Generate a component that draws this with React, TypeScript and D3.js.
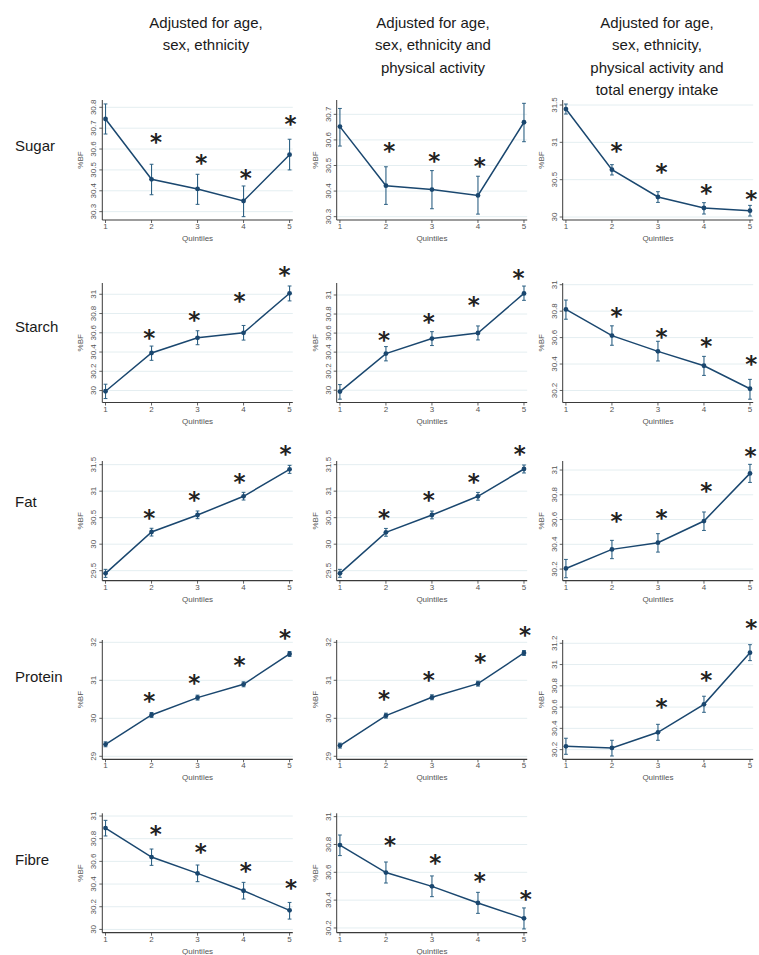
import React from "react";
import * as d3 from "d3";

const W = 759;
const H = 955;

const quintiles = [1, 2, 3, 4, 5];
const nutrients = ["Sugar", "Starch", "Fat", "Protein", "Fibre"];
const titleModel1 = ["Adjusted for age,", "sex, ethnicity"];
const titleModel2 = ["Adjusted for age,", "sex, ethnicity and", "physical activity"];
const titleModel3 = ["Adjusted for age,", "sex, ethnicity,", "physical activity and", "total energy intake"];
const xAxisTitle = "Quintiles";
const yAxisTitle = "%BF";

// each row: [mean, lower CI, upper CI] per quintile
const sugarM1 = [[30.744, 30.672, 30.816], [30.455, 30.381, 30.527], [30.409, 30.335, 30.479], [30.351, 30.276, 30.423], [30.573, 30.5, 30.647]];
const sugarM2 = [[30.652, 30.576, 30.723], [30.421, 30.348, 30.495], [30.406, 30.331, 30.48], [30.383, 30.31, 30.458], [30.669, 30.593, 30.743]];
const sugarM3 = [[31.446, 31.379, 31.513], [30.634, 30.563, 30.701], [30.268, 30.196, 30.339], [30.121, 30.04, 30.192], [30.085, 30.013, 30.156]];
const starchM1 = [[29.993, 29.917, 30.066], [30.39, 30.314, 30.462], [30.548, 30.476, 30.621], [30.6, 30.524, 30.676], [31.01, 30.931, 31.086]];
const starchM2 = [[29.986, 29.906, 30.059], [30.385, 30.308, 30.458], [30.542, 30.469, 30.615], [30.601, 30.528, 30.675], [31.017, 30.944, 31.094]];
const starchM3 = [[30.813, 30.739, 30.884], [30.615, 30.542, 30.689], [30.496, 30.423, 30.572], [30.387, 30.314, 30.458], [30.213, 30.134, 30.284]];
const fatM1 = [[29.45, 29.374, 29.525], [30.23, 30.154, 30.3], [30.55, 30.481, 30.626], [30.903, 30.833, 30.978], [31.412, 31.336, 31.487]];
const fatM2 = [[29.45, 29.375, 29.525], [30.223, 30.15, 30.297], [30.55, 30.478, 30.624], [30.903, 30.83, 30.976], [31.418, 31.343, 31.493]];
const fatM3 = [[30.205, 30.13, 30.278], [30.359, 30.284, 30.432], [30.413, 30.337, 30.486], [30.588, 30.512, 30.661], [30.973, 30.9, 31.046]];
const proteinM1 = [[29.316, 29.251, 29.381], [30.088, 30.023, 30.153], [30.544, 30.479, 30.609], [30.895, 30.83, 30.96], [31.693, 31.628, 31.758]];
const proteinM2 = [[29.281, 29.216, 29.346], [30.07, 30.005, 30.135], [30.553, 30.488, 30.618], [30.912, 30.847, 30.977], [31.719, 31.654, 31.784]];
const proteinM3 = [[30.231, 30.156, 30.307], [30.216, 30.14, 30.288], [30.363, 30.288, 30.438], [30.626, 30.551, 30.702], [31.112, 31.037, 31.187]];
const fibreM1 = [[30.894, 30.824, 30.962], [30.638, 30.565, 30.709], [30.494, 30.421, 30.568], [30.341, 30.268, 30.415], [30.168, 30.091, 30.238]];
const fibreM2 = [[30.796, 30.72, 30.868], [30.598, 30.523, 30.674], [30.499, 30.425, 30.574], [30.38, 30.305, 30.456], [30.269, 30.193, 30.344]];

// significance stars: [quintile position, %BF position]
const sugarM1Stars = [[2.1, 30.659], [3.08, 30.559], [4.05, 30.487], [5.02, 30.747]];
const sugarM2Stars = [[2.07, 30.58], [3.05, 30.541], [4.04, 30.519]];
const sugarM3Stars = [[2.1, 30.964], [3.08, 30.674], [4.05, 30.393], [5.03, 30.317]];
const starchM1Stars = [[1.95, 30.603], [2.93, 30.79], [3.91, 30.983], [4.89, 31.259]];
const starchM2Stars = [[1.96, 30.584], [2.93, 30.769], [3.91, 30.955], [4.88, 31.241]];
const starchM3Stars = [[2.1, 30.803], [3.08, 30.643], [4.05, 30.577], [5.03, 30.443]];
const fatM1Stars = [[1.95, 30.6], [2.93, 30.94], [3.91, 31.286], [4.91, 31.796]];
const fatM2Stars = [[1.96, 30.6], [2.93, 30.94], [3.91, 31.274], [4.91, 31.808]];
const fatM3Stars = [[2.1, 30.636], [3.08, 30.658], [4.05, 30.879], [5.01, 31.156]];
const proteinM1Stars = [[1.95, 30.596], [2.93, 31.079], [3.91, 31.553], [4.9, 32.263]];
const proteinM2Stars = [[1.96, 30.658], [2.93, 31.14], [4.05, 31.623], [5.02, 32.325]];
const proteinM3Stars = [[3.08, 30.651], [4.05, 30.902], [5.03, 31.4]];
const fibreM1Stars = [[2.09, 30.891], [3.07, 30.729], [4.05, 30.568], [5.03, 30.412]];
const fibreM2Stars = [[2.09, 30.837], [3.07, 30.705], [4.04, 30.574], [5.04, 30.449]];

// y axis ranges and ticks
const sugarM1Range = [30.26, 30.835];
const sugarM2Range = [30.287, 30.756];
const sugarM3Range = [29.96, 31.567];
const starchM1Range = [29.876, 31.117];
const starchM2Range = [29.871, 31.126];
const starchM3Range = [30.109, 31.013];
const fatM1Range = [29.311, 31.569];
const fatM2Range = [29.311, 31.569];
const fatM3Range = [30.106, 31.073];
const proteinM1Range = [28.921, 32.061];
const proteinM2Range = [28.921, 32.061];
const proteinM3Range = [30.109, 31.231];
const fibreM1Range = [29.971, 31.024];
const fibreM2Range = [30.166, 31.024];

const ticksSugar1 = [30.3, 30.4, 30.5, 30.6, 30.7, 30.8];
const ticksSugar2 = [30.3, 30.4, 30.5, 30.6, 30.7];
const ticksHalf30 = [30, 30.5, 31, 31.5];
const ticks30to31 = [30, 30.2, 30.4, 30.6, 30.8, 31];
const ticks302to31 = [30.2, 30.4, 30.6, 30.8, 31];
const ticksFat = [29.5, 30, 30.5, 31, 31.5];
const ticksProtein = [29, 30, 31, 32];
const ticks302to312 = [30.2, 30.4, 30.6, 30.8, 31, 31.2];

const panels = [
  { row: 0, col: 0, data: sugarM1, stars: sugarM1Stars, range: sugarM1Range, ticks: ticksSugar1 },
  { row: 0, col: 1, data: sugarM2, stars: sugarM2Stars, range: sugarM2Range, ticks: ticksSugar2 },
  { row: 0, col: 2, data: sugarM3, stars: sugarM3Stars, range: sugarM3Range, ticks: ticksHalf30 },
  { row: 1, col: 0, data: starchM1, stars: starchM1Stars, range: starchM1Range, ticks: ticks30to31 },
  { row: 1, col: 1, data: starchM2, stars: starchM2Stars, range: starchM2Range, ticks: ticks30to31 },
  { row: 1, col: 2, data: starchM3, stars: starchM3Stars, range: starchM3Range, ticks: ticks302to31 },
  { row: 2, col: 0, data: fatM1, stars: fatM1Stars, range: fatM1Range, ticks: ticksFat },
  { row: 2, col: 1, data: fatM2, stars: fatM2Stars, range: fatM2Range, ticks: ticksFat },
  { row: 2, col: 2, data: fatM3, stars: fatM3Stars, range: fatM3Range, ticks: ticks302to31 },
  { row: 3, col: 0, data: proteinM1, stars: proteinM1Stars, range: proteinM1Range, ticks: ticksProtein },
  { row: 3, col: 1, data: proteinM2, stars: proteinM2Stars, range: proteinM2Range, ticks: ticksProtein },
  { row: 3, col: 2, data: proteinM3, stars: proteinM3Stars, range: proteinM3Range, ticks: ticks302to312 },
  { row: 4, col: 0, data: fibreM1, stars: fibreM1Stars, range: fibreM1Range, ticks: ticks30to31 },
  { row: 4, col: 1, data: fibreM2, stars: fibreM2Stars, range: fibreM2Range, ticks: ticks302to31 },
];

// layout
const colAxisX = [102.3, 336.7, 562.7];
const plotW = 190.5;
const rowTop = [100, 283, 461, 640, 813.3];
const rowBottom = [220, 402.5, 580.7, 759.3, 932.7];
const rowLabelY = [151, 332, 507, 682, 865];
const titleCenters = [206, 433, 657];
const titleY0 = 28;
const titleLineH = 22.3;

const LINE = "#1a476f";
const CI = "#2d6184";
const AXIS = "#3a3a3a";
const GRID = "#e4eef1";
const TEXT = "#555";
const SANS = "'Liberation Sans', Arial, sans-serif";

function Panel({ p }: { p: any }) {
  const x0 = colAxisX[p.col];
  const top = rowTop[p.row];
  const bottom = rowBottom[p.row];
  const xs = d3.scaleLinear().domain([0.93, 5.07]).range([x0, x0 + plotW]);
  const ys = d3.scaleLinear().domain(p.range).range([bottom, top]);
  const line = d3
    .line<number[]>()
    .x((_, i) => xs(quintiles[i]))
    .y((d) => ys(d[0]));
  const cap = 1.9;
  return (
    <g>
      {p.ticks.map((t: number) => (
        <line key={"g" + t} x1={x0} x2={x0 + plotW} y1={ys(t)} y2={ys(t)} stroke={GRID} strokeWidth={1} />
      ))}
      {p.ticks.map((t: number) => (
        <g key={"t" + t}>
          <line x1={x0 - 3} x2={x0} y1={ys(t)} y2={ys(t)} stroke={AXIS} strokeWidth={0.8} />
          <text
            transform={`translate(${x0 - 6},${ys(t)}) rotate(-90)`}
            textAnchor="middle"
            fontFamily={SANS}
            fontSize={8}
            fill={TEXT}
          >
            {String(t)}
          </text>
        </g>
      ))}
      {quintiles.map((q) => (
        <g key={"x" + q}>
          <line x1={xs(q)} x2={xs(q)} y1={bottom} y2={bottom + 3} stroke={AXIS} strokeWidth={0.8} />
          <text x={xs(q)} y={bottom + 9} textAnchor="middle" fontFamily={SANS} fontSize={8} fill={TEXT}>
            {q}
          </text>
        </g>
      ))}
      <line x1={x0} x2={x0} y1={top} y2={bottom} stroke={AXIS} strokeWidth={1} />
      <line x1={x0} x2={x0 + plotW} y1={bottom} y2={bottom} stroke={AXIS} strokeWidth={1.2} />
      <text x={(xs(1) + xs(5)) / 2} y={bottom + 21} textAnchor="middle" fontFamily={SANS} fontSize={8} fill={TEXT}>
        {xAxisTitle}
      </text>
      <text
        transform={`translate(${x0 - 19},${(top + bottom) / 2}) rotate(-90)`}
        textAnchor="middle"
        fontFamily={SANS}
        fontSize={8}
        fill={TEXT}
      >
        {yAxisTitle}
      </text>
      {p.data.map((d: number[], i: number) => (
        <g key={"e" + i}>
          <line x1={xs(quintiles[i])} x2={xs(quintiles[i])} y1={ys(d[1])} y2={ys(d[2])} stroke={CI} strokeWidth={1.1} />
          <line x1={xs(quintiles[i]) - cap} x2={xs(quintiles[i]) + cap} y1={ys(d[1])} y2={ys(d[1])} stroke={CI} strokeWidth={1} />
          <line x1={xs(quintiles[i]) - cap} x2={xs(quintiles[i]) + cap} y1={ys(d[2])} y2={ys(d[2])} stroke={CI} strokeWidth={1} />
        </g>
      ))}
      <path d={line(p.data) || ""} fill="none" stroke={LINE} strokeWidth={1.5} />
      {p.data.map((d: number[], i: number) => (
        <circle key={"c" + i} cx={xs(quintiles[i])} cy={ys(d[0])} r={2.4} fill={LINE} />
      ))}
      {p.stars.map((s: number[], i: number) => (
        <text
          key={"s" + i}
          x={xs(s[0])}
          y={ys(s[1]) + 13.5}
          textAnchor="middle"
          fontFamily="'DejaVu Sans', sans-serif"
          fontWeight="bold"
          fontSize={23}
          fill="#222"
        >
          *
        </text>
      ))}
    </g>
  );
}

export default function App() {
  const titles = [titleModel1, titleModel2, titleModel3];
  return (
    <svg
      width={W}
      height={H}
      viewBox={`0 0 ${W} ${H}`}
      style={{ position: "absolute", left: 0, top: 0, display: "block", background: "#fff" }}
    >
      <rect x={0} y={0} width={W} height={H} fill="#fff" />
      <g opacity={0.999}>
        {titles.map((lines, c) =>
          lines.map((t, j) => (
            <text
              key={c + "-" + j}
              x={titleCenters[c]}
              y={titleY0 + j * titleLineH}
              textAnchor="middle"
              fontFamily={SANS}
              fontSize={15}
              fill="#1a1a1a"
            >
              {t}
            </text>
          ))
        )}
        {nutrients.map((n, r) => (
          <text key={n} x={15} y={rowLabelY[r]} fontFamily={SANS} fontSize={15} fill="#1a1a1a">
            {n}
          </text>
        ))}
        {panels.map((p, i) => (
          <Panel key={i} p={p} />
        ))}
      </g>
    </svg>
  );
}
